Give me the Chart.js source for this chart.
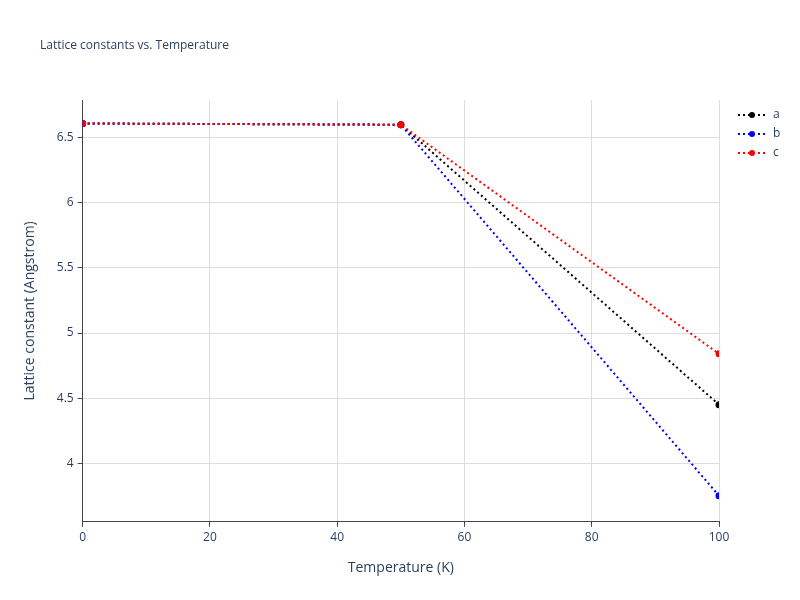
<!DOCTYPE html>
<html><head><script src="https://cdn.jsdelivr.net/npm/chart.js@4"></script>
<style>body{margin:0;background:#fff}#w{width:800px;height:600px}</style></head>
<body><div id="w"><canvas id="c" width="800" height="600"></canvas></div>
<script>
const temps=[0,50,100];
const seriesA=[6.61,6.60,4.45];
const seriesB=[6.61,6.60,3.75];
const seriesC=[6.61,6.60,4.84];
const names=['a','b','c'];
const colors=['#000000','#0000ff','#ff0000'];
const yTicks=[4,4.5,5,5.5,6,6.5];
const xTicks=[0,20,40,60,80,100];
const vals=[seriesA,seriesB,seriesC];
const font="'Open Sans', sans-serif";
const ds=vals.map((v,i)=>({label:names[i],order:2-i,data:temps.map((t,j)=>({x:t,y:v[j]})),borderColor:colors[i],backgroundColor:colors[i],borderDash:[2,3],borderWidth:2,pointRadius:2.5,pointHoverRadius:2.5,fill:false}));
const legendPlugin={id:'lg',afterDraw(ch){const c=ch.ctx;c.save();names.forEach((n,i)=>{const y=115+i*19;c.strokeStyle=colors[i];c.lineWidth=2;c.setLineDash([2,3]);c.beginPath();c.moveTo(738,y);c.lineTo(766,y);c.stroke();c.setLineDash([]);c.fillStyle=colors[i];c.beginPath();c.arc(752,y,3,0,7);c.fill();c.fillStyle='#2a3f5f';c.font='12px '+font;c.textBaseline='middle';c.fillText(n,773,y);});
c.fillStyle='#2a3f5f';c.font='12px '+font;c.textBaseline='middle';c.fillText('Lattice constants vs. Temperature',40,46);c.restore();}};
new Chart(document.getElementById('c'),{type:'line',data:{datasets:ds},plugins:[legendPlugin],
options:{responsive:false,animation:false,layout:{padding:{left:18,right:81,top:100,bottom:20}},
plugins:{legend:{display:false},tooltip:{enabled:false}},
scales:{x:{type:'linear',min:0,max:100,afterBuildTicks(a){a.ticks=xTicks.map(v=>({value:v}))},
ticks:{color:'#2a3f5f',font:{size:12,family:font},maxRotation:0,padding:4},
grid:{color:'#dedede',drawTicks:true,tickLength:5,tickColor:'#444'},border:{display:true,color:'#444',width:1},
title:{display:true,text:'Temperature (K)',color:'#2a3f5f',font:{size:14,family:font},padding:{top:10}}},
y:{type:'linear',min:3.55,max:6.79,afterBuildTicks(a){a.ticks=yTicks.map(v=>({value:v}))},
ticks:{color:'#2a3f5f',font:{size:12,family:font},padding:4,callback:v=>String(v)},
grid:{color:'#dedede',tickLength:5,tickColor:'#444'},border:{display:true,color:'#444',width:1},
title:{display:true,text:'Lattice constant (Angstrom)',color:'#2a3f5f',font:{size:14,family:font},padding:{bottom:14}}}}}});
</script></body></html>
